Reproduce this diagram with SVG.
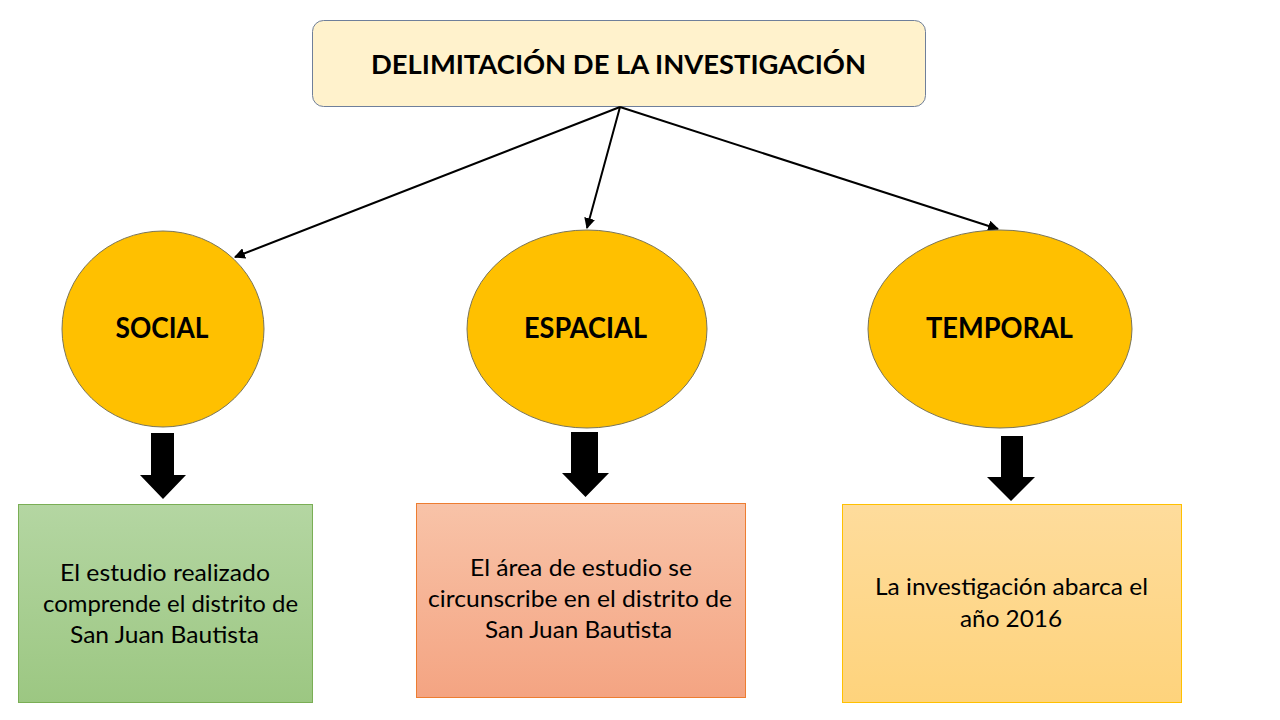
<svg xmlns="http://www.w3.org/2000/svg" width="1280" height="720" viewBox="0 0 1280 720">
<style>
.t{font-family:Lato,"Liberation Sans",sans-serif;fill:#000;text-anchor:middle}
.b{font-weight:bold}
.lbl{font-size:28px;font-weight:bold}
.body{font-size:22.5px}
.ell{fill:#ffc000;stroke:#7a7558;stroke-width:1}
.con{stroke:#000;stroke-width:2;fill:none}
.blk{fill:#000}
</style>
<defs>
<marker id="ah" viewBox="0 0 10 10" refX="9" refY="5" markerWidth="5.5" markerHeight="5.5" orient="auto" markerUnits="strokeWidth">
<path d="M0,0 L10,5 L0,10 Z" fill="#000"/>
</marker>
<linearGradient id="gG" x1="0" y1="0" x2="0" y2="1"><stop offset="0" stop-color="#b4d6a2"/><stop offset="1" stop-color="#9cc782"/></linearGradient>
<linearGradient id="gS" x1="0" y1="0" x2="0" y2="1"><stop offset="0" stop-color="#f8c3a8"/><stop offset="1" stop-color="#f4a482"/></linearGradient>
<linearGradient id="gY" x1="0" y1="0" x2="0" y2="1"><stop offset="0" stop-color="#fedc9c"/><stop offset="1" stop-color="#fed37c"/></linearGradient>
</defs>
<rect width="1280" height="720" fill="#fff"/>
<g id="title">
<rect x="312.5" y="20.5" width="613" height="86" rx="11" fill="#fff2cc" stroke="#6f7f9a" stroke-width="1"/>
<text class="t b" x="618.5" y="74" font-size="26" textLength="495" lengthAdjust="spacingAndGlyphs">DELIMITACIÓN DE LA INVESTIGACIÓN</text>
</g>
<g id="connectors">
<line class="con" x1="620" y1="107" x2="235" y2="257" marker-end="url(#ah)"/>
<line class="con" x1="620" y1="107" x2="587" y2="228" marker-end="url(#ah)"/>
<line class="con" x1="620" y1="107" x2="998" y2="229" marker-end="url(#ah)"/>
<path class="blk" d="M151,433 H174 V475 H186 L163,499 L140,475 H151 Z"/>
<path class="blk" d="M571,432 H598 V473 H609 L585.5,497 L562,473 H571 Z"/>
<path class="blk" d="M1001,436 H1023 V477 H1035 L1011,501 L987,477 H1001 Z"/>
</g>
<g id="social">
<ellipse class="ell" cx="163" cy="329" rx="101" ry="98"/>
<text class="t lbl" x="162" y="338" textLength="93" lengthAdjust="spacingAndGlyphs">SOCIAL</text>
</g>
<g id="espacial">
<ellipse class="ell" cx="587" cy="329" rx="120" ry="99"/>
<text class="t lbl" x="585.5" y="338" textLength="123" lengthAdjust="spacingAndGlyphs">ESPACIAL</text>
</g>
<g id="temporal">
<ellipse class="ell" cx="1000" cy="329" rx="132" ry="99"/>
<text class="t lbl" x="999.5" y="338" textLength="147" lengthAdjust="spacingAndGlyphs">TEMPORAL</text>
</g>
<g id="box-social">
<rect x="18.5" y="504.5" width="294" height="198" fill="url(#gG)" stroke="#7aae55" stroke-width="1"/>
<text class="t body" x="165" y="581" textLength="210" lengthAdjust="spacingAndGlyphs">El estudio realizado</text>
<text class="t body" x="170.5" y="612" textLength="255" lengthAdjust="spacingAndGlyphs">comprende el distrito de</text>
<text class="t body" x="164.5" y="643" textLength="189" lengthAdjust="spacingAndGlyphs">San Juan Bautista</text>
</g>
<g id="box-espacial">
<rect x="416.5" y="503.5" width="329" height="194" fill="url(#gS)" stroke="#ed7d31" stroke-width="1"/>
<text class="t body" x="581" y="576" textLength="222" lengthAdjust="spacingAndGlyphs">El área de estudio se</text>
<text class="t body" x="580" y="607" textLength="304" lengthAdjust="spacingAndGlyphs">circunscribe en el distrito de</text>
<text class="t body" x="578.5" y="638" textLength="187" lengthAdjust="spacingAndGlyphs">San Juan Bautista</text>
</g>
<g id="box-temporal">
<rect x="842.5" y="504.5" width="339" height="198" fill="url(#gY)" stroke="#ffc000" stroke-width="1"/>
<text class="t body" x="1011.5" y="595" textLength="273" lengthAdjust="spacingAndGlyphs">La investigación abarca el</text>
<text class="t body" x="1011" y="627" textLength="102" lengthAdjust="spacingAndGlyphs">año 2016</text>
</g>
</svg>
